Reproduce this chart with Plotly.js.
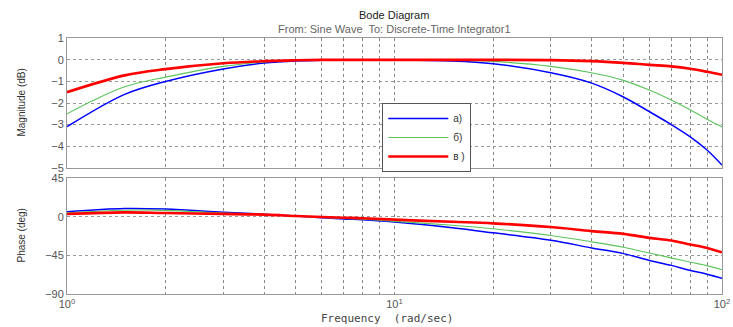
<!DOCTYPE html>
<html>
<head>
<meta charset="utf-8">
<script src="https://cdn.plot.ly/plotly-3.0.1.min.js"></script>
<style>html,body{margin:0;padding:0;background:#fff;}#chart{width:733px;height:327px;}</style>
</head>
<body>
<div id="chart"></div>
<script>
const freq = [1, 1.5, 2, 3, 4, 5, 6, 7, 8, 10, 15, 20, 30, 40, 50, 60, 70, 80, 90, 100];
const magA = [-3.1, -1.6, -1.0, -0.42, -0.15, -0.05, -0.02, 0, 0, 0, -0.05, -0.18, -0.6, -1.08, -1.72, -2.4, -3.0, -3.57, -4.18, -4.88];
const magB = [-2.5, -1.25, -0.8, -0.3, -0.1, -0.03, -0.01, 0, 0, 0, -0.01, -0.07, -0.3, -0.6, -0.95, -1.4, -1.86, -2.32, -2.75, -3.1];
const magV = [-1.5, -0.72, -0.43, -0.16, -0.06, -0.02, 0, 0, 0, 0, 0, 0, -0.01, -0.06, -0.14, -0.23, -0.3, -0.41, -0.55, -0.69];
const phA = [5.8, 9.5, 8.8, 5.2, 2.9, 0.8, -1.2, -2.7, -3.6, -6.3, -13, -18.8, -27.4, -36.4, -43, -50.9, -56.7, -62.6, -66.9, -71.6];
const phB = [4.6, 7.5, 7.3, 4.2, 2.6, 0.8, -1.0, -2.2, -3.0, -5.5, -10, -14.1, -21.9, -29.3, -35.6, -42.3, -48, -53, -57, -61.8];
const phV = [3.1, 5.0, 4.2, 3.2, 2.4, 0.8, -0.4, -1.2, -1.8, -3.5, -6, -7.8, -12.1, -16.8, -20, -24.7, -27.8, -32.5, -36.4, -41.5];
const seriesNames = ['а)', 'б)', 'в )'];
const gridFreq = [1,2,3,4,5,6,7,8,9,10,20,30,40,50,60,70,80,90,100];
const gridText = gridFreq.map(v => v === 1 ? '10<sup>0</sup>' : v === 10 ? '10<sup>1</sup>' : v === 100 ? '10<sup>2</sup>' : '');
const magTicks = [1, 0, -1, -2, -3, -4, -5];
const phTicks = [45, 0, -45, -90];

const colors = ['#0000ff', '#5cc45c', '#ff0000'];
const widths = [1.5, 1.1, 2.6];
const mags = [magA, magB, magV];
const phs = [phA, phB, phV];

const traces = [];
for (let i = 0; i < 3; i++) {
  traces.push({x: freq, y: mags[i], type: 'scatter', mode: 'lines', name: seriesNames[i],
    line: {color: colors[i], width: widths[i], shape: 'spline', smoothing: 1}, xaxis: 'x', yaxis: 'y'});
}
for (let i = 0; i < 3; i++) {
  traces.push({x: freq, y: phs[i], type: 'scatter', mode: 'lines', showlegend: false,
    line: {color: colors[i], width: widths[i], shape: 'spline', smoothing: 1}, xaxis: 'x2', yaxis: 'y2'});
}

const tickFont = {family: 'Liberation Sans, Arial, sans-serif', size: 11, color: '#555'};
const baseX = {type: 'log', range: [0, 2], tickmode: 'array', tickvals: gridFreq, ticktext: gridText,
  showgrid: true, gridcolor: '#888', griddash: 'dot', gridwidth: 1, showline: true, linecolor: '#999',
  linewidth: 1, mirror: true, ticks: '', zeroline: false, tickfont: tickFont};
const baseY = {showgrid: true, gridcolor: '#999', griddash: '3px,3px', gridwidth: 1, showline: true,
  linecolor: '#999', linewidth: 1, mirror: true, ticks: '', zeroline: false, tickfont: tickFont};

function ann(text, xpx, ypx, font, extra) {
  return Object.assign({text: text, xref: 'paper', yref: 'paper', x: (xpx - 66.5) / 655.5, y: 1 - ypx / 327,
    xanchor: 'center', yanchor: 'middle', showarrow: false, font: font}, extra || {});
}

const layout = {
  width: 733, height: 327,
  margin: {l: 66.5, r: 11, t: 0, b: 0},
  paper_bgcolor: '#fff', plot_bgcolor: '#fff',
  showlegend: true,
  legend: {x: (382 - 66.5) / 655.5, y: 1 - 103 / 327, xanchor: 'left', yanchor: 'top', bgcolor: '#fff',
    bordercolor: '#555', borderwidth: 1, font: {family: 'Liberation Sans, Arial, sans-serif', size: 10, color: '#333'},
    tracegroupgap: 0, itemwidth: 60},
  xaxis: Object.assign({}, baseX, {domain: [0, 1], anchor: 'y', showticklabels: false}),
  yaxis: Object.assign({}, baseY, {domain: [1 - 167.7 / 327, 1 - 38.3 / 327], range: [-5, 1], tickmode: 'array', tickvals: magTicks}),
  xaxis2: Object.assign({}, baseX, {domain: [0, 1], anchor: 'y2', showticklabels: true}),
  yaxis2: Object.assign({}, baseY, {domain: [1 - 294 / 327, 1 - 178 / 327], range: [-90, 45], tickmode: 'array', tickvals: phTicks}),
  annotations: [
    ann('Bode Diagram', 394, 15, {family: 'Liberation Sans, Arial, sans-serif', size: 11, color: '#222'}),
    ann('From: Sine Wave  To: Discrete-Time Integrator1', 394, 29, {family: 'Liberation Sans, Arial, sans-serif', size: 11, color: '#666'}),
    ann('Magnitude (dB)', 20, 103, {family: 'Liberation Sans Narrow, Arial Narrow, sans-serif', size: 10, color: '#333'}, {textangle: -90}),
    ann('Phase (deg)', 20, 236, {family: 'Liberation Sans Narrow, Arial Narrow, sans-serif', size: 10, color: '#333'}, {textangle: -90}),
    ann('Frequency  (rad/sec)', 387, 318, {family: 'DejaVu Sans Mono, Liberation Mono, monospace', size: 11, color: '#444'})
  ]
};

Plotly.newPlot('chart', traces, layout, {displayModeBar: false, staticPlot: true});
</script>
</body>
</html>
